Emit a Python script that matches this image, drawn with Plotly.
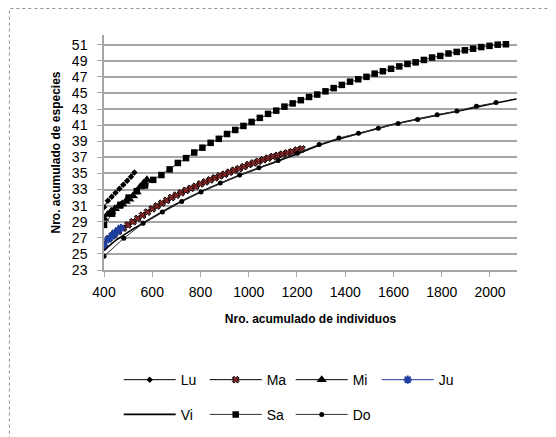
import plotly.graph_objects as go

# ---------------- data ----------------
lu_x = [400, 416, 432, 448, 464, 480, 496, 512, 526]
lu_y = [30.8, 31.6, 32.1, 32.6, 33.1, 33.6, 34.1, 34.6, 35.1]

ma_x = [400, 420, 440, 460, 480, 500, 520, 540, 560, 580, 600, 620, 640, 660,
        680, 700, 720, 740, 760, 780, 800, 820, 840, 860, 880, 900, 920, 940,
        960, 980, 1000, 1020, 1040, 1060, 1080, 1100, 1120, 1140, 1160, 1180,
        1200, 1220]
ma_y = [26.3, 26.9, 27.4, 27.8, 28.2, 28.6, 29.0, 29.4, 29.8, 30.2, 30.6, 30.95,
        31.3, 31.65, 32.0, 32.3, 32.6, 32.9, 33.15, 33.4, 33.7, 33.95, 34.2,
        34.45, 34.7, 34.9, 35.15, 35.4, 35.6, 35.85, 36.1, 36.3, 36.5, 36.7,
        36.9, 37.1, 37.25, 37.4, 37.55, 37.7, 37.9, 38.05]

mi_x = [400, 415, 430, 445, 460, 475, 490, 505, 520, 535, 550, 565, 578]
mi_y = [29.4, 29.9, 30.3, 30.6, 30.9, 31.2, 31.5, 31.8, 32.2, 32.7, 33.3, 33.8, 34.2]

ju_x = [400, 418, 432, 445, 458, 470]
ju_y = [26.0, 26.8, 27.2, 27.6, 27.9, 28.2]

vi_x = [400, 450, 500, 550, 600, 700, 800, 900, 1000, 1100, 1200, 1300, 1400,
        1500, 1600, 1700, 1800, 1900, 2000, 2110]
vi_y = [25.4, 26.7, 27.7, 28.6, 29.5, 31.2, 32.7, 34.0, 35.2, 36.3, 37.4, 38.6,
        39.5, 40.3, 41.1, 41.75, 42.35, 42.95, 43.6, 44.25]

sa_x = [400, 434, 468, 502, 536, 570, 604, 638, 672, 706, 740, 774, 808, 842,
        876, 910, 944, 978, 1012, 1046, 1080, 1114, 1148, 1182, 1216, 1250,
        1284, 1318, 1352, 1386, 1420, 1454, 1488, 1522, 1556, 1590, 1624, 1658,
        1692, 1726, 1760, 1794, 1828, 1862, 1896, 1930, 1964, 1998, 2032, 2066]
sa_y = [28.6, 30.0, 31.1, 32.0, 32.8, 33.5, 34.2, 34.8, 35.5, 36.3, 36.9, 37.6,
        38.2, 38.8, 39.3, 39.9, 40.4, 40.9, 41.4, 41.9, 42.4, 42.8, 43.3, 43.7,
        44.1, 44.5, 44.8, 45.2, 45.6, 46.0, 46.4, 46.7, 47.0, 47.4, 47.7, 48.0,
        48.3, 48.6, 48.8, 49.1, 49.4, 49.6, 49.9, 50.1, 50.3, 50.5, 50.7, 50.85,
        51.0, 51.05]

do_x = [400, 482, 562, 642, 722, 802, 882, 962, 1042, 1122, 1202, 1292, 1374,
        1455, 1537, 1619, 1700, 1781, 1863, 1944, 2025]
do_y = [24.7, 26.95, 28.8, 30.2, 31.5, 32.7, 33.8, 34.8, 35.7, 36.6, 37.5, 38.6,
        39.4, 40.0, 40.6, 41.2, 41.7, 42.3, 42.75, 43.35, 43.8]

cutoff_x = 470

x_ticks = [400, 600, 800, 1000, 1200, 1400, 1600, 1800, 2000]
y_ticks = [23, 25, 27, 29, 31, 33, 35, 37, 39, 41, 43, 45, 47, 49, 51]

# ---------------- figure ----------------
fig = go.Figure()

def add(name, x, y, symbol, size, mcolor, lcolor, lwidth=1, mline=None, legend="legend", mode="lines+markers"):
    marker = dict(symbol=symbol, size=size, color=mcolor)
    if mline:
        marker["line"] = mline
    fig.add_trace(go.Scatter(x=x, y=y, name=name, mode=mode,
                             marker=marker,
                             line=dict(color=lcolor, width=lwidth),
                             legend=legend))

add("Lu", lu_x, lu_y, "diamond", 5, "black", "black")
add("Ma", ma_x, ma_y, "x", 6, "#8B2525", "black", mline=dict(color="black", width=1))
add("Mi", mi_x, mi_y, "triangle-up", 9, "black", "black")
add("Ju", ju_x, ju_y, "asterisk-open", 7, "#1F3FA0", "#1F3FA0",
    mline=dict(color="#1F3FA0", width=2))
fig.add_trace(go.Scatter(x=vi_x, y=vi_y, name="Vi", mode="lines",
                         line=dict(color="black", width=1.6, shape="spline"),
                         legend="legend2"))
add("Sa", sa_x, sa_y, "square", 6.5, "black", "#333333", legend="legend2")
add("Do", do_x, do_y, "circle", 5, "black", "#333333", legend="legend2")

fig.add_vline(x=cutoff_x, line=dict(color="#E05050", width=1, dash="dot"))

grid = "#A6A6A6"
fig.update_xaxes(range=[400, 2112], tickvals=x_ticks, showgrid=False,
                 showline=True, linecolor=grid, linewidth=1.5,
                 ticks="outside", ticklen=5, tickcolor=grid,
                 ticklabelstandoff=3,
                 tickfont=dict(family="Liberation Sans", size=14, color="black"),
                 title=dict(text="<b>Nro. acumulado de individuos</b>",
                            font=dict(family="Liberation Sans", size=12, color="black"),
                            standoff=16),
                 zeroline=False)
fig.update_yaxes(range=[23, 52.2], tickvals=y_ticks, showgrid=True,
                 gridcolor=grid, gridwidth=1.5,
                 showline=True, linecolor=grid, linewidth=1.5,
                 ticks="outside", ticklen=5, tickcolor=grid,
                 ticklabelstandoff=7,
                 tickfont=dict(family="Liberation Sans", size=14, color="black"),
                 title=dict(text="<b>Nro. acumulado de especies</b>",
                            font=dict(family="Liberation Sans", size=12, color="black"),
                            standoff=9),
                 zeroline=False)

legend_common = dict(orientation="h", xref="container", yref="container",
                     xanchor="left", yanchor="top", itemwidth=52, entrywidth=19,
                     font=dict(family="Liberation Sans", size=14, color="black"),
                     bgcolor="rgba(0,0,0,0)", traceorder="normal")

fig.update_layout(
    width=548, height=429,
    margin=dict(l=96, r=39, t=27, b=167),
    paper_bgcolor="white", plot_bgcolor="white",
    showlegend=True,
    legend=dict(x=0.202, y=0.170, **legend_common),
    legend2=dict(x=0.202, y=0.089, **legend_common),
    shapes=[dict(type="rect", xref="paper", yref="paper",
                 x0=-0.229, x1=1.2, y0=-0.8, y1=1.113,
                 line=dict(color="#8C8C8C", width=1), layer="below")],
)

fig.write_html("out.html")
